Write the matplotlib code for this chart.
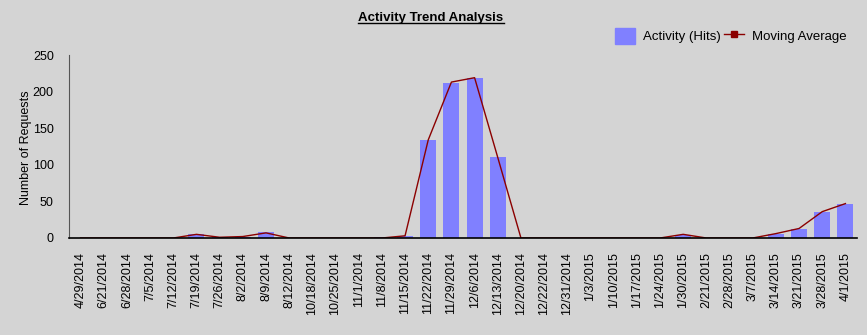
import matplotlib
matplotlib.use('Agg')
import matplotlib.pyplot as plt
from matplotlib.patches import Patch
from matplotlib.lines import Line2D

plt.rcParams['font.family'] = ['Liberation Sans', 'DejaVu Sans']

# Data
dates = ['4/29/2014', '6/21/2014', '6/28/2014', '7/5/2014', '7/12/2014', '7/19/2014',
         '7/26/2014', '8/2/2014', '8/9/2014', '8/12/2014', '10/18/2014', '10/25/2014',
         '11/1/2014', '11/8/2014', '11/15/2014', '11/22/2014', '11/29/2014', '12/6/2014',
         '12/13/2014', '12/20/2014', '12/22/2014', '12/31/2014', '1/3/2015', '1/10/2015',
         '1/17/2015', '1/24/2015', '1/30/2015', '2/21/2015', '2/28/2015', '3/7/2015',
         '3/14/2015', '3/21/2015', '3/28/2015', '4/1/2015']
hits = [0, 0, 0, 0, 0, 5, 1, 2, 8, 0, 0, 0, 0, 1, 3, 134, 212, 219, 110, 0, 0, 0,
        0, 0, 0, 0, 4, 0, 0, 0, 6, 12, 35, 46]
moving_avg = [0, 0, 0, 0, 0, 5, 1, 2, 7, 0, 0, 0, 0, 0, 3, 134, 213, 219, 110, 0, 0, 0,
              0, 0, 0, 0, 5, 0, 0, 0, 6, 13, 36, 47]

bg = '#d4d4d4'
bar_color = '#8080ff'
line_color = '#8b0000'

fig = plt.figure(figsize=(8.67, 3.35), dpi=100, facecolor=bg)
ax = fig.add_axes([69 / 867, 1 - 238 / 335, 788 / 867, 183 / 335])
ax.set_facecolor(bg)

x = list(range(len(dates)))
ax.bar(x, hits, width=0.69, color=bar_color, zorder=1)
ax.plot(x, moving_avg, color=line_color, linewidth=1.0, zorder=2)

ax.set_xlim(-0.5, len(dates) - 0.5)
ax.set_ylim(0, 250)
ax.set_yticks([0, 50, 100, 150, 200, 250])
ax.set_xticks(x)
ax.set_xticklabels(dates, rotation=90, fontsize=9)
ax.tick_params(axis='x', length=0, pad=10)
ax.tick_params(axis='y', length=0, pad=11, labelsize=9)

for side in ['top', 'right']:
    ax.spines[side].set_visible(False)
ax.spines['left'].set_color('#555555')
ax.spines['bottom'].set_color('black')
ax.spines['bottom'].set_linewidth(1.2)
ax.spines['left'].set_zorder(3)
ax.spines['bottom'].set_zorder(3)

fig.text(26 / 867, 1 - 148 / 335, 'Number of Requests', rotation=90,
         ha='center', va='center', fontsize=9)

# Title with underline
title = fig.text(431 / 867, 1 - 18 / 335, 'Activity Trend Analysis',
                 ha='center', va='center', fontsize=9.5, fontweight='bold')
fig.canvas.draw()
bb = title.get_window_extent().transformed(fig.transFigure.inverted())
fig.add_artist(Line2D([bb.x0, bb.x1], [bb.y0 + 0.003, bb.y0 + 0.003],
                      color='black', linewidth=1.0, transform=fig.transFigure))

handles = [Patch(facecolor=bar_color, edgecolor=bar_color, label='Activity (Hits)'),
           Line2D([0], [0], color=line_color, marker='s', markersize=4,
                  linewidth=1.0, label='Moving Average')]
fig.legend(handles=handles, loc='center right', bbox_to_anchor=(852 / 867, 1 - 36 / 335),
           ncol=2, frameon=False, fontsize=9.5, handlelength=1.5, handleheight=1.6,
           columnspacing=0.3, handletextpad=0.6, borderaxespad=0)

fig.savefig('out.png', dpi=100, facecolor=bg)
